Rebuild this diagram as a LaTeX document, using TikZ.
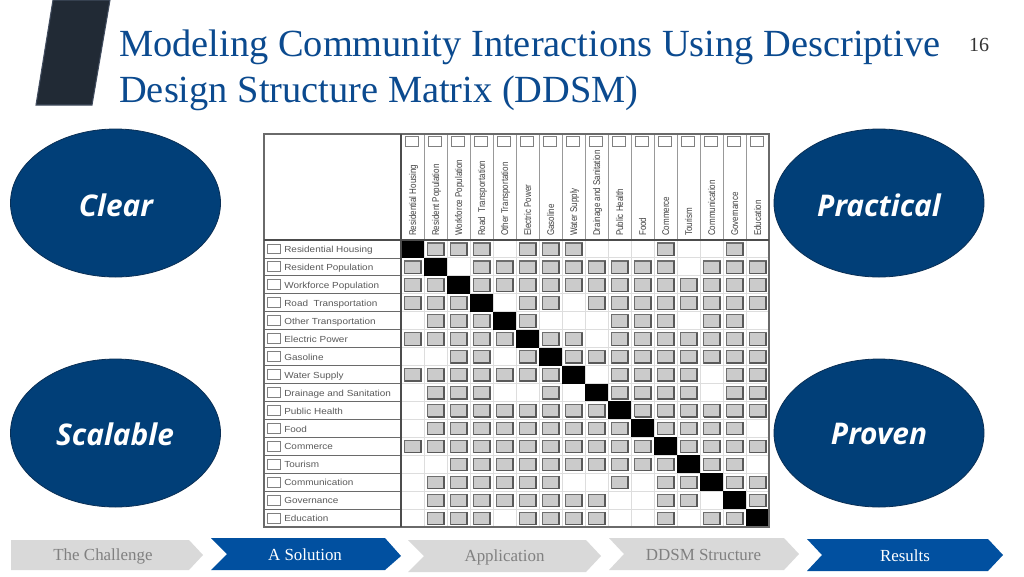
\documentclass[tikz,border=0pt]{standalone}
\usepackage{fontspec}
\usetikzlibrary{shapes.geometric}
\setmainfont{Liberation Serif}
\newfontfamily\labsans{Liberation Sans}
\newfontfamily\ovalfont{Open Sans}
\definecolor{titleblue}{HTML}{0B4A8F}
\definecolor{ovalblue}{HTML}{013F78}
\definecolor{ovaledge}{HTML}{0A2F55}
\definecolor{chevblue}{HTML}{0150A0}
\definecolor{chevgrey}{HTML}{D9D9D9}
\definecolor{chevtext}{HTML}{808080}
\definecolor{slab}{HTML}{212A35}
\definecolor{slabedge}{HTML}{414C5E}
\definecolor{cellgrey}{HTML}{CBCBCB}
\definecolor{celledge}{HTML}{6E6E6E}
\definecolor{tickedge}{HTML}{808080}
\definecolor{gridgrey}{HTML}{DDDDDD}
\definecolor{framegrey}{HTML}{6A6A6A}
\definecolor{rowtext}{HTML}{5A5A5A}
\begin{document}
\begin{tikzpicture}[x=0.75pt,y=-0.75pt,
  titletext/.style={anchor=base west,inner sep=0,text=titleblue,font=\fontsize{28.8}{29}\selectfont},
  oval/.style={ellipse,draw=ovaledge,line width=0.6pt,fill=ovalblue,minimum width=157.5pt,minimum height=111pt,inner sep=0},
  ovaltext/.style={text=white,inner sep=0,font=\ovalfont\bfseries\itshape\fontsize{22.4}{23}\selectfont},
  chev/.style={fill=chevgrey,draw=none},
  chevb/.style={fill=chevblue,draw=none},
  chevlabel/.style={inner sep=0,font=\fontsize{12.7}{13}\selectfont,text=chevtext},
  chevlabelb/.style={inner sep=0,font=\fontsize{12.7}{13}\selectfont,text=white},
  rowlabel/.style={anchor=base west,inner sep=0,text=rowtext,xscale=1.13,font=\labsans\fontsize{6.6}{8}\selectfont},
  collabel/.style={anchor=base west,inner sep=0,rotate=90,text=black!75,font=\labsans\fontsize{7.3}{8}\selectfont,xscale=0.82},
  tick/.style={draw=tickedge,line width=0.7pt,fill=white},
  cellbox/.style={draw=celledge,line width=0.85pt,fill=cellgrey}]
\useasboundingbox (0,0) rectangle (1024,576);
\fill[white] (0,0) rectangle (1024,576);
% slab
\draw[fill=slab,draw=slabedge,line width=0.8pt] (53,0) -- (110,0) -- (92,105) -- (36,105) -- cycle;
% title
\node[titletext] (t1) at (119,56.5) {Modeling Community Interactions Using Descriptive};
\node[titletext] (t2) at (119,102.5) {Design Structure Matrix (DDSM)};
\node[inner sep=0,font=\fontsize{15}{15}\selectfont,text=black!80] (pg) at (979,45) {16};
% ovals
\node[oval] (o1) at (115.5,203) {};
\node[oval] (o2) at (879,203) {};
\node[oval] (o3) at (115.5,433) {};
\node[oval] (o4) at (879,433) {};
\node[ovaltext] (l1) at (116,205) {Clear};
\node[ovaltext] (l2) at (879,205) {Practical};
\node[ovaltext] (l3) at (115,434) {Scalable};
\node[ovaltext] (l4) at (879,434) {Proven};
% matrix grid
\def\gx{401}\def\gy{240}\def\cw{23}\def\rh{17.94}
\fill[white] (264,134) rectangle (769,527);
\foreach \i in {1,...,15} {
  \draw[gridgrey,line width=0.7pt] (\gx,{\gy+\i*\rh}) -- (769,{\gy+\i*\rh});
  \draw[gridgrey,line width=0.7pt] ({\gx+\i*\cw},\gy) -- ({\gx+\i*\cw},527);
  \draw[framegrey,line width=0.6pt] (264,{\gy+\i*\rh}) -- (\gx,{\gy+\i*\rh});
  \draw[black!40,line width=0.75pt] ({\gx+\i*\cw},134) -- ({\gx+\i*\cw},\gy);
}
% cells
\foreach \r/\cells in {
 1/{2,3,4,6,7,8,12,15},
 2/{1,4,5,6,7,8,9,10,11,12,14,15,16},
 3/{1,2,4,5,6,7,8,9,10,11,12,13,14,15,16},
 4/{1,2,3,6,7,9,10,11,12,13,14,15,16},
 5/{2,3,4,6,10,11,12,14,15},
 6/{1,2,3,4,5,7,8,10,11,12,13,14,15,16},
 7/{3,4,6,8,9,10,11,12,13,14,15,16},
 8/{1,2,3,4,5,6,7,10,11,12,13,15,16},
 9/{2,3,4,7,10,11,12,13,15,16},
 10/{2,3,4,5,6,7,8,9,11,12,13,14,15,16},
 11/{2,3,4,5,6,7,8,9,10,12,13,14,15},
 12/{1,2,3,4,5,6,7,8,9,10,11,13,14,15,16},
 13/{3,4,5,6,7,8,9,10,11,12,14,15},
 14/{2,3,4,5,6,7,10,12,13,15,16},
 15/{2,3,4,5,6,7,8,9,12,13,16},
 16/{2,3,4,6,7,8,9,12,14,15}} {
  \fill[black] ({\gx+(\r-1)*\cw},{\gy+(\r-1)*\rh}) rectangle ({\gx+\r*\cw},{\gy+\r*\rh});
  \foreach \c in \cells {
    \pgfmathsetmacro{\xa}{\gx+(\c-1)*\cw+3.5}
    \pgfmathsetmacro{\xb}{\gx+\c*\cw-3}
    \pgfmathsetmacro{\ya}{\gy+(\r-1)*\rh+3}
    \pgfmathsetmacro{\yb}{\gy+\r*\rh-2.5}
    \draw[cellbox] (\xa,\ya) rectangle (\xb,\yb);
    \draw[black!65,line width=0.95pt] (\xa,\yb) -- (\xb,\yb) -- (\xb,\ya);
  }
}
% frame
\draw[framegrey,line width=1pt] (264,134) rectangle (769,527);
\draw[black!70,line width=0.9pt] (\gx,134) -- (\gx,527);
\draw[black!70,line width=0.9pt] (264,\gy) -- (769,\gy);
% row labels
\foreach \i/\t in {1/Residential Housing,2/Resident Population,3/Workforce Population,4/Road\ \ Transportation,5/Other Transportation,6/Electric Power,7/Gasoline,8/Water Supply,9/Drainage and Sanitation,10/Public Health,11/Food,12/Commerce,13/Tourism,14/Communication,15/Governance,16/Education} {
  \draw[tick] (267,{\gy+(\i-1)*\rh+4}) rectangle (280,{\gy+\i*\rh-4});
  \node[rowlabel] (r\i) at (284,{\gy+(\i-1)*\rh+12.6}) {\t};
}
% column labels
\foreach \i/\t in {1/Residential Housing,2/Resident Population,3/Workforce Population,4/Road\ \ Transportation,5/Other Transportation,6/Electric Power,7/Gasoline,8/Water Supply,9/Drainage and Sanitation,10/Public Health,11/Food,12/Commerce,13/Tourism,14/Communication,15/Governance,16/Education} {
  \draw[tick] ({\gx+(\i-1)*\cw+4},136.5) rectangle ({\gx+\i*\cw-5.5},146);
  \node[collabel] (c\i) at ({\gx+(\i-1)*\cw+15},236) {\t};
}
% chevrons
\fill[chev] (11,540) -- (189,540) -- (203,555) -- (189,570) -- (11,570) -- cycle;
\fill[chevb] (211,538) -- (385,538) -- (401,556) -- (385,570) -- (211,570) -- (227,554) -- cycle;
\fill[chev] (408,540) -- (586,540) -- (601,556) -- (586,572) -- (408,572) -- (424,556) -- cycle;
\fill[chev] (609,538) -- (784,538) -- (799,554) -- (784,570) -- (609,570) -- (624,554) -- cycle;
\fill[chevb] (807,539) -- (988,539) -- (1003,555) -- (988,571) -- (807,571) -- (822,555) -- cycle;
\node[chevlabel] (s1) at (103,556) {The Challenge};
\node[chevlabelb] (s2) at (305,555) {A Solution};
\node[chevlabel] (s3) at (504.5,557) {Application};
\node[chevlabel] (s4) at (703.5,555) {DDSM Structure};
\node[chevlabelb] (s5) at (905,556) {Results};
\end{tikzpicture}
\end{document}
